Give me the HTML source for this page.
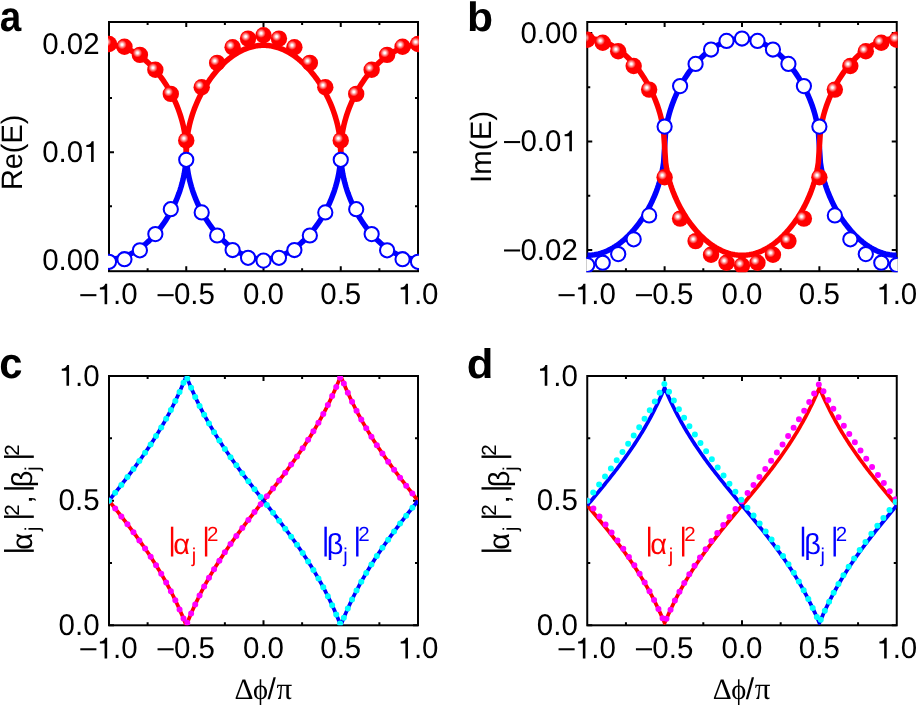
<!DOCTYPE html><html><head><meta charset="utf-8"><style>html,body{margin:0;padding:0;background:#fff;overflow:hidden}svg{display:block;will-change:transform;text-rendering:geometricPrecision}</style></head><body>
<svg width="916" height="705" viewBox="0 0 916 705" font-family="Liberation Sans, sans-serif">
<defs>
<radialGradient id="ball" cx="0.355" cy="0.375" r="0.5" fx="0.355" fy="0.375"><stop offset="0" stop-color="#fff"/><stop offset="0.1" stop-color="#fff"/><stop offset="0.56" stop-color="#f00"/><stop offset="1" stop-color="#f00"/></radialGradient>
<path id="one" d="M263 0H349V-673H285C262-600 200-555 106-550V-485H263Z"/>
<clipPath id="cia"><rect x="109" y="22" width="309" height="249.2"/></clipPath>
<clipPath id="coa"><rect x="108" y="21" width="311" height="251.2"/></clipPath>
<clipPath id="cib"><rect x="587.25" y="22" width="309.5" height="249.2"/></clipPath>
<clipPath id="cob"><rect x="586.25" y="21" width="311.5" height="251.2"/></clipPath>
<clipPath id="cic"><rect x="109" y="376" width="309" height="249.3"/></clipPath>
<clipPath id="coc"><rect x="108" y="375" width="311" height="251.3"/></clipPath>
<clipPath id="cid"><rect x="587.25" y="376" width="309.5" height="249.3"/></clipPath>
<clipPath id="cod"><rect x="586.25" y="375" width="311.5" height="251.3"/></clipPath>
</defs>
<rect width="916" height="705" fill="#fff"/>
<path d="M147.62 22v3M147.62 271.2v-3M186.25 22v5M186.25 271.2v-5M224.88 22v3M224.88 271.2v-3M263.5 22v5M263.5 271.2v-5M302.12 22v3M302.12 271.2v-3M340.75 22v5M340.75 271.2v-5M379.38 22v3M379.38 271.2v-3M109 260.4h5M418 260.4h-5M109 152.2h5M418 152.2h-5M109 44h5M418 44h-5M109 206.3h3M418 206.3h-3M109 98.1h3M418 98.1h-3" stroke="#000" stroke-width="2" fill="none"/>
<rect x="109" y="22" width="309" height="249.2" stroke="#000" stroke-width="2" fill="none"/>
<g clip-path="url(#cia)" fill="none" stroke-width="5.5" stroke-linejoin="round">
<path d="M109 259.1L110.03 259.09 111.06 259.05 112.09 259 113.12 258.91 114.15 258.81 115.18 258.68 116.21 258.53 117.24 258.35 118.27 258.15 119.3 257.93 120.33 257.68 121.36 257.41 122.39 257.11 123.42 256.8 124.45 256.45 125.48 256.09 126.51 255.7 127.54 255.28 128.57 254.84 129.6 254.38 130.63 253.89 131.66 253.37 132.69 252.84 133.72 252.27 134.75 251.68 135.78 251.07 136.81 250.43 137.84 249.76 138.87 249.07 139.9 248.35 140.93 247.61 141.96 246.84 142.99 246.04 144.02 245.21 145.05 244.36 146.08 243.47 147.11 242.56 148.14 241.62 149.17 240.65 150.2 239.65 151.23 238.61 152.26 237.55 153.29 236.45 154.32 235.32 155.35 234.16 156.38 232.96 157.41 231.72 158.44 230.45 159.47 229.14 160.5 227.79 161.53 226.4 162.56 224.96 163.59 223.48 164.62 221.96 165.65 220.38 166.68 218.75 167.71 217.06 168.74 215.31 169.77 213.5 170.8 211.63 171.83 209.67 172.86 207.64 173.89 205.51 174.92 203.28 175.95 200.94 176.98 198.48 178.01 195.86 179.04 193.06 180.07 190.05 181.1 186.76 182.13 183.12 183.16 178.99 184.19 174.08 185.22 167.67 186.25 152.2 187.28 167.67 188.31 174.08 189.34 178.99 190.37 183.12 191.4 186.76 192.43 190.05 193.46 193.06 194.49 195.86 195.52 198.48 196.55 200.94 197.58 203.28 198.61 205.51 199.64 207.64 200.67 209.67 201.7 211.63 202.73 213.5 203.76 215.31 204.79 217.06 205.82 218.75 206.85 220.38 207.88 221.96 208.91 223.48 209.94 224.96 210.97 226.4 212 227.79 213.03 229.14 214.06 230.45 215.09 231.72 216.12 232.96 217.15 234.16 218.18 235.32 219.21 236.45 220.24 237.55 221.27 238.61 222.3 239.65 223.33 240.65 224.36 241.62 225.39 242.56 226.42 243.47 227.45 244.36 228.48 245.21 229.51 246.04 230.54 246.84 231.57 247.61 232.6 248.35 233.63 249.07 234.66 249.76 235.69 250.43 236.72 251.07 237.75 251.68 238.78 252.27 239.81 252.84 240.84 253.37 241.87 253.89 242.9 254.38 243.93 254.84 244.96 255.28 245.99 255.7 247.02 256.09 248.05 256.45 249.08 256.8 250.11 257.11 251.14 257.41 252.17 257.68 253.2 257.93 254.23 258.15 255.26 258.35 256.29 258.53 257.32 258.68 258.35 258.81 259.38 258.91 260.41 259 261.44 259.05 262.47 259.09 263.5 259.1 264.53 259.09 265.56 259.05 266.59 259 267.62 258.91 268.65 258.81 269.68 258.68 270.71 258.53 271.74 258.35 272.77 258.15 273.8 257.93 274.83 257.68 275.86 257.41 276.89 257.11 277.92 256.8 278.95 256.45 279.98 256.09 281.01 255.7 282.04 255.28 283.07 254.84 284.1 254.38 285.13 253.89 286.16 253.37 287.19 252.84 288.22 252.27 289.25 251.68 290.28 251.07 291.31 250.43 292.34 249.76 293.37 249.07 294.4 248.35 295.43 247.61 296.46 246.84 297.49 246.04 298.52 245.21 299.55 244.36 300.58 243.47 301.61 242.56 302.64 241.62 303.67 240.65 304.7 239.65 305.73 238.61 306.76 237.55 307.79 236.45 308.82 235.32 309.85 234.16 310.88 232.96 311.91 231.72 312.94 230.45 313.97 229.14 315 227.79 316.03 226.4 317.06 224.96 318.09 223.48 319.12 221.96 320.15 220.38 321.18 218.75 322.21 217.06 323.24 215.31 324.27 213.5 325.3 211.63 326.33 209.67 327.36 207.64 328.39 205.51 329.42 203.28 330.45 200.94 331.48 198.48 332.51 195.86 333.54 193.06 334.57 190.05 335.6 186.76 336.63 183.12 337.66 178.99 338.69 174.08 339.72 167.67 340.75 152.2 341.78 167.67 342.81 174.08 343.84 178.99 344.87 183.12 345.9 186.76 346.93 190.05 347.96 193.06 348.99 195.86 350.02 198.48 351.05 200.94 352.08 203.28 353.11 205.51 354.14 207.64 355.17 209.67 356.2 211.63 357.23 213.5 358.26 215.31 359.29 217.06 360.32 218.75 361.35 220.38 362.38 221.96 363.41 223.48 364.44 224.96 365.47 226.4 366.5 227.79 367.53 229.14 368.56 230.45 369.59 231.72 370.62 232.96 371.65 234.16 372.68 235.32 373.71 236.45 374.74 237.55 375.77 238.61 376.8 239.65 377.83 240.65 378.86 241.62 379.89 242.56 380.92 243.47 381.95 244.36 382.98 245.21 384.01 246.04 385.04 246.84 386.07 247.61 387.1 248.35 388.13 249.07 389.16 249.76 390.19 250.43 391.22 251.07 392.25 251.68 393.28 252.27 394.31 252.84 395.34 253.37 396.37 253.89 397.4 254.38 398.43 254.84 399.46 255.28 400.49 255.7 401.52 256.09 402.55 256.45 403.58 256.8 404.61 257.11 405.64 257.41 406.67 257.68 407.7 257.93 408.73 258.15 409.76 258.35 410.79 258.53 411.82 258.68 412.85 258.81 413.88 258.91 414.91 259 415.94 259.05 416.97 259.09 418 259.1" stroke="#00f"/>
<path d="M109 45.3L110.03 45.31 111.06 45.35 112.09 45.4 113.12 45.49 114.15 45.59 115.18 45.72 116.21 45.87 117.24 46.05 118.27 46.25 119.3 46.47 120.33 46.72 121.36 46.99 122.39 47.29 123.42 47.6 124.45 47.95 125.48 48.31 126.51 48.7 127.54 49.12 128.57 49.56 129.6 50.02 130.63 50.51 131.66 51.03 132.69 51.56 133.72 52.13 134.75 52.72 135.78 53.33 136.81 53.97 137.84 54.64 138.87 55.33 139.9 56.05 140.93 56.79 141.96 57.56 142.99 58.36 144.02 59.19 145.05 60.04 146.08 60.93 147.11 61.84 148.14 62.78 149.17 63.75 150.2 64.75 151.23 65.79 152.26 66.85 153.29 67.95 154.32 69.08 155.35 70.24 156.38 71.44 157.41 72.68 158.44 73.95 159.47 75.26 160.5 76.61 161.53 78 162.56 79.44 163.59 80.92 164.62 82.44 165.65 84.02 166.68 85.65 167.71 87.34 168.74 89.09 169.77 90.9 170.8 92.77 171.83 94.73 172.86 96.76 173.89 98.89 174.92 101.12 175.95 103.46 176.98 105.92 178.01 108.54 179.04 111.34 180.07 114.35 181.1 117.64 182.13 121.28 183.16 125.41 184.19 130.32 185.22 136.73 186.25 152.2 187.28 136.73 188.31 130.32 189.34 125.41 190.37 121.28 191.4 117.64 192.43 114.35 193.46 111.34 194.49 108.54 195.52 105.92 196.55 103.46 197.58 101.12 198.61 98.89 199.64 96.76 200.67 94.73 201.7 92.77 202.73 90.9 203.76 89.09 204.79 87.34 205.82 85.65 206.85 84.02 207.88 82.44 208.91 80.92 209.94 79.44 210.97 78 212 76.61 213.03 75.26 214.06 73.95 215.09 72.68 216.12 71.44 217.15 70.24 218.18 69.08 219.21 67.95 220.24 66.85 221.27 65.79 222.3 64.75 223.33 63.75 224.36 62.78 225.39 61.84 226.42 60.93 227.45 60.04 228.48 59.19 229.51 58.36 230.54 57.56 231.57 56.79 232.6 56.05 233.63 55.33 234.66 54.64 235.69 53.97 236.72 53.33 237.75 52.72 238.78 52.13 239.81 51.56 240.84 51.03 241.87 50.51 242.9 50.02 243.93 49.56 244.96 49.12 245.99 48.7 247.02 48.31 248.05 47.95 249.08 47.6 250.11 47.29 251.14 46.99 252.17 46.72 253.2 46.47 254.23 46.25 255.26 46.05 256.29 45.87 257.32 45.72 258.35 45.59 259.38 45.49 260.41 45.4 261.44 45.35 262.47 45.31 263.5 45.3 264.53 45.31 265.56 45.35 266.59 45.4 267.62 45.49 268.65 45.59 269.68 45.72 270.71 45.87 271.74 46.05 272.77 46.25 273.8 46.47 274.83 46.72 275.86 46.99 276.89 47.29 277.92 47.6 278.95 47.95 279.98 48.31 281.01 48.7 282.04 49.12 283.07 49.56 284.1 50.02 285.13 50.51 286.16 51.03 287.19 51.56 288.22 52.13 289.25 52.72 290.28 53.33 291.31 53.97 292.34 54.64 293.37 55.33 294.4 56.05 295.43 56.79 296.46 57.56 297.49 58.36 298.52 59.19 299.55 60.04 300.58 60.93 301.61 61.84 302.64 62.78 303.67 63.75 304.7 64.75 305.73 65.79 306.76 66.85 307.79 67.95 308.82 69.08 309.85 70.24 310.88 71.44 311.91 72.68 312.94 73.95 313.97 75.26 315 76.61 316.03 78 317.06 79.44 318.09 80.92 319.12 82.44 320.15 84.02 321.18 85.65 322.21 87.34 323.24 89.09 324.27 90.9 325.3 92.77 326.33 94.73 327.36 96.76 328.39 98.89 329.42 101.12 330.45 103.46 331.48 105.92 332.51 108.54 333.54 111.34 334.57 114.35 335.6 117.64 336.63 121.28 337.66 125.41 338.69 130.32 339.72 136.73 340.75 152.2 341.78 136.73 342.81 130.32 343.84 125.41 344.87 121.28 345.9 117.64 346.93 114.35 347.96 111.34 348.99 108.54 350.02 105.92 351.05 103.46 352.08 101.12 353.11 98.89 354.14 96.76 355.17 94.73 356.2 92.77 357.23 90.9 358.26 89.09 359.29 87.34 360.32 85.65 361.35 84.02 362.38 82.44 363.41 80.92 364.44 79.44 365.47 78 366.5 76.61 367.53 75.26 368.56 73.95 369.59 72.68 370.62 71.44 371.65 70.24 372.68 69.08 373.71 67.95 374.74 66.85 375.77 65.79 376.8 64.75 377.83 63.75 378.86 62.78 379.89 61.84 380.92 60.93 381.95 60.04 382.98 59.19 384.01 58.36 385.04 57.56 386.07 56.79 387.1 56.05 388.13 55.33 389.16 54.64 390.19 53.97 391.22 53.33 392.25 52.72 393.28 52.13 394.31 51.56 395.34 51.03 396.37 50.51 397.4 50.02 398.43 49.56 399.46 49.12 400.49 48.7 401.52 48.31 402.55 47.95 403.58 47.6 404.61 47.29 405.64 46.99 406.67 46.72 407.7 46.47 408.73 46.25 409.76 46.05 410.79 45.87 411.82 45.72 412.85 45.59 413.88 45.49 414.91 45.4 415.94 45.35 416.97 45.31 418 45.3" stroke="#f00"/>
</g>
<g clip-path="url(#coa)">
<circle cx="109" cy="261.8" r="7.1" fill="#fff" stroke="#00f" stroke-width="2.05"/>
<circle cx="124.45" cy="259.2" r="7.1" fill="#fff" stroke="#00f" stroke-width="2.05"/>
<circle cx="139.9" cy="250.3" r="7.1" fill="#fff" stroke="#00f" stroke-width="2.05"/>
<circle cx="155.35" cy="234.1" r="7.1" fill="#fff" stroke="#00f" stroke-width="2.05"/>
<circle cx="170.8" cy="209.2" r="7.1" fill="#fff" stroke="#00f" stroke-width="2.05"/>
<circle cx="186.25" cy="159.8" r="7.1" fill="#fff" stroke="#00f" stroke-width="2.05"/>
<circle cx="201.7" cy="212.4" r="7.1" fill="#fff" stroke="#00f" stroke-width="2.05"/>
<circle cx="217.15" cy="235.5" r="7.1" fill="#fff" stroke="#00f" stroke-width="2.05"/>
<circle cx="232.6" cy="250" r="7.1" fill="#fff" stroke="#00f" stroke-width="2.05"/>
<circle cx="248.05" cy="257.8" r="7.1" fill="#fff" stroke="#00f" stroke-width="2.05"/>
<circle cx="263.5" cy="260.6" r="7.1" fill="#fff" stroke="#00f" stroke-width="2.05"/>
<circle cx="278.95" cy="257.8" r="7.1" fill="#fff" stroke="#00f" stroke-width="2.05"/>
<circle cx="294.4" cy="250" r="7.1" fill="#fff" stroke="#00f" stroke-width="2.05"/>
<circle cx="309.85" cy="235.5" r="7.1" fill="#fff" stroke="#00f" stroke-width="2.05"/>
<circle cx="325.3" cy="212.4" r="7.1" fill="#fff" stroke="#00f" stroke-width="2.05"/>
<circle cx="340.75" cy="159.8" r="7.1" fill="#fff" stroke="#00f" stroke-width="2.05"/>
<circle cx="356.2" cy="209.2" r="7.1" fill="#fff" stroke="#00f" stroke-width="2.05"/>
<circle cx="371.65" cy="234.1" r="7.1" fill="#fff" stroke="#00f" stroke-width="2.05"/>
<circle cx="387.1" cy="250.3" r="7.1" fill="#fff" stroke="#00f" stroke-width="2.05"/>
<circle cx="402.55" cy="259.2" r="7.1" fill="#fff" stroke="#00f" stroke-width="2.05"/>
<circle cx="418" cy="261.8" r="7.1" fill="#fff" stroke="#00f" stroke-width="2.05"/>
<circle cx="109" cy="44" r="8.2" fill="url(#ball)"/>
<circle cx="124.45" cy="46.7" r="8.2" fill="url(#ball)"/>
<circle cx="139.9" cy="54.9" r="8.2" fill="url(#ball)"/>
<circle cx="155.35" cy="69.8" r="8.2" fill="url(#ball)"/>
<circle cx="170.8" cy="93.9" r="8.2" fill="url(#ball)"/>
<circle cx="186.25" cy="140.4" r="8.2" fill="url(#ball)"/>
<circle cx="201.7" cy="87.2" r="8.2" fill="url(#ball)"/>
<circle cx="217.15" cy="62.9" r="8.2" fill="url(#ball)"/>
<circle cx="232.6" cy="47.3" r="8.2" fill="url(#ball)"/>
<circle cx="248.05" cy="38.6" r="8.2" fill="url(#ball)"/>
<circle cx="263.5" cy="35.3" r="8.2" fill="url(#ball)"/>
<circle cx="278.95" cy="38.6" r="8.2" fill="url(#ball)"/>
<circle cx="294.4" cy="47.3" r="8.2" fill="url(#ball)"/>
<circle cx="309.85" cy="62.9" r="8.2" fill="url(#ball)"/>
<circle cx="325.3" cy="87.2" r="8.2" fill="url(#ball)"/>
<circle cx="340.75" cy="140.4" r="8.2" fill="url(#ball)"/>
<circle cx="356.2" cy="93.9" r="8.2" fill="url(#ball)"/>
<circle cx="371.65" cy="69.8" r="8.2" fill="url(#ball)"/>
<circle cx="387.1" cy="54.9" r="8.2" fill="url(#ball)"/>
<circle cx="402.55" cy="46.7" r="8.2" fill="url(#ball)"/>
<circle cx="418" cy="44" r="8.2" fill="url(#ball)"/>
</g>
<g transform="translate(80.29 304.3) scale(1 1.02)">
<text font-size="29.5" xml:space="preserve">  .0</text>
<rect x="0" y="-9.95" width="16.11" height="2"/>
<use href="#one" transform="translate(16.41 0) scale(0.03)"/>
</g>
<g transform="translate(157.54 304.3) scale(1 1.02)">
<text font-size="29.5" xml:space="preserve"> 0.5</text>
<rect x="0" y="-9.95" width="16.11" height="2"/>
</g>
<g transform="translate(243 304.3) scale(1 1.02)">
<text font-size="29.5" xml:space="preserve">0.0</text>
</g>
<g transform="translate(320.25 304.3) scale(1 1.02)">
<text font-size="29.5" xml:space="preserve">0.5</text>
</g>
<g transform="translate(397.5 304.3) scale(1 1.02)">
<text font-size="29.5" xml:space="preserve"> .0</text>
<use href="#one" transform="translate(0 0) scale(0.03)"/>
</g>
<g transform="translate(42.18 53.7) scale(1 1.02)">
<text font-size="29.5" xml:space="preserve">0.02</text>
</g>
<g transform="translate(42.18 161.9) scale(1 1.02)">
<text font-size="29.5" xml:space="preserve">0.0 </text>
<use href="#one" transform="translate(41.01 0) scale(0.03)"/>
</g>
<g transform="translate(42.18 270.1) scale(1 1.02)">
<text font-size="29.5" xml:space="preserve">0.00</text>
</g>
<path d="M625.94 22v3M625.94 271.2v-3M664.62 22v5M664.62 271.2v-5M703.31 22v3M703.31 271.2v-3M742 22v5M742 271.2v-5M780.69 22v3M780.69 271.2v-3M819.38 22v5M819.38 271.2v-5M858.06 22v3M858.06 271.2v-3M587.25 33.1h5M896.75 33.1h-5M587.25 141.5h5M896.75 141.5h-5M587.25 249.9h5M896.75 249.9h-5M587.25 87.3h3M896.75 87.3h-3M587.25 195.7h3M896.75 195.7h-3" stroke="#000" stroke-width="2" fill="none"/>
<rect x="587.25" y="22" width="309.5" height="249.2" stroke="#000" stroke-width="2" fill="none"/>
<g clip-path="url(#cib)" fill="none" stroke-width="5.5" stroke-linejoin="round">
<path d="M587.25 255.32L588.28 255.31 589.31 255.27 590.35 255.21 591.38 255.13 592.41 255.02 593.44 254.89 594.47 254.74 595.5 254.56 596.53 254.36 597.57 254.13 598.6 253.88 599.63 253.6 600.66 253.3 601.69 252.98 602.73 252.63 603.76 252.26 604.79 251.87 605.82 251.44 606.85 251 607.88 250.53 608.91 250.03 609.95 249.51 610.98 248.97 612.01 248.39 613.04 247.8 614.07 247.17 615.11 246.53 616.14 245.85 617.17 245.15 618.2 244.42 619.23 243.67 620.26 242.88 621.29 242.07 622.33 241.23 623.36 240.37 624.39 239.47 625.42 238.55 626.45 237.59 627.49 236.61 628.52 235.59 629.55 234.54 630.58 233.47 631.61 232.35 632.64 231.21 633.67 230.03 634.71 228.81 635.74 227.56 636.77 226.27 637.8 224.94 638.83 223.57 639.87 222.16 640.9 220.7 641.93 219.2 642.96 217.65 643.99 216.05 645.02 214.4 646.05 212.69 647.09 210.92 648.12 209.08 649.15 207.18 650.18 205.2 651.21 203.13 652.25 200.98 653.28 198.72 654.31 196.35 655.34 193.84 656.37 191.19 657.4 188.35 658.43 185.3 659.47 181.97 660.5 178.28 661.53 174.08 662.56 169.1 663.59 162.61 664.62 146.92 665.66 131.23 666.69 124.74 667.72 119.76 668.75 115.56 669.78 111.87 670.82 108.54 671.85 105.49 672.88 102.65 673.91 100 674.94 97.49 675.97 95.12 677 92.86 678.04 90.71 679.07 88.64 680.1 86.66 681.13 84.76 682.16 82.92 683.19 81.15 684.23 79.44 685.26 77.79 686.29 76.19 687.32 74.64 688.35 73.14 689.38 71.68 690.42 70.27 691.45 68.9 692.48 67.57 693.51 66.28 694.54 65.03 695.58 63.81 696.61 62.63 697.64 61.49 698.67 60.37 699.7 59.3 700.73 58.25 701.76 57.23 702.8 56.25 703.83 55.29 704.86 54.37 705.89 53.47 706.92 52.61 707.96 51.77 708.99 50.96 710.02 50.17 711.05 49.42 712.08 48.69 713.11 47.99 714.14 47.31 715.18 46.67 716.21 46.04 717.24 45.45 718.27 44.87 719.3 44.33 720.34 43.81 721.37 43.31 722.4 42.84 723.43 42.4 724.46 41.97 725.49 41.58 726.52 41.21 727.56 40.86 728.59 40.54 729.62 40.24 730.65 39.96 731.68 39.71 732.72 39.48 733.75 39.28 734.78 39.1 735.81 38.95 736.84 38.82 737.87 38.71 738.9 38.63 739.94 38.57 740.97 38.53 742 38.52 743.03 38.53 744.06 38.57 745.1 38.63 746.13 38.71 747.16 38.82 748.19 38.95 749.22 39.1 750.25 39.28 751.28 39.48 752.32 39.71 753.35 39.96 754.38 40.24 755.41 40.54 756.44 40.86 757.48 41.21 758.51 41.58 759.54 41.97 760.57 42.4 761.6 42.84 762.63 43.31 763.66 43.81 764.7 44.33 765.73 44.87 766.76 45.45 767.79 46.04 768.82 46.67 769.86 47.31 770.89 47.99 771.92 48.69 772.95 49.42 773.98 50.17 775.01 50.96 776.04 51.77 777.08 52.61 778.11 53.47 779.14 54.37 780.17 55.29 781.2 56.25 782.24 57.23 783.27 58.25 784.3 59.3 785.33 60.37 786.36 61.49 787.39 62.63 788.42 63.81 789.46 65.03 790.49 66.28 791.52 67.57 792.55 68.9 793.58 70.27 794.62 71.68 795.65 73.14 796.68 74.64 797.71 76.19 798.74 77.79 799.77 79.44 800.8 81.15 801.84 82.92 802.87 84.76 803.9 86.66 804.93 88.64 805.96 90.71 807 92.86 808.03 95.12 809.06 97.49 810.09 100 811.12 102.65 812.15 105.49 813.18 108.54 814.22 111.87 815.25 115.56 816.28 119.76 817.31 124.74 818.34 131.23 819.38 146.92 820.41 162.61 821.44 169.1 822.47 174.08 823.5 178.28 824.53 181.97 825.57 185.3 826.6 188.35 827.63 191.19 828.66 193.84 829.69 196.35 830.72 198.72 831.75 200.98 832.79 203.13 833.82 205.2 834.85 207.18 835.88 209.08 836.91 210.92 837.95 212.69 838.98 214.4 840.01 216.05 841.04 217.65 842.07 219.2 843.1 220.7 844.13 222.16 845.17 223.57 846.2 224.94 847.23 226.27 848.26 227.56 849.29 228.81 850.33 230.03 851.36 231.21 852.39 232.35 853.42 233.47 854.45 234.54 855.48 235.59 856.51 236.61 857.55 237.59 858.58 238.55 859.61 239.47 860.64 240.37 861.67 241.23 862.7 242.07 863.74 242.88 864.77 243.67 865.8 244.42 866.83 245.15 867.86 245.85 868.89 246.53 869.93 247.17 870.96 247.8 871.99 248.39 873.02 248.97 874.05 249.51 875.09 250.03 876.12 250.53 877.15 251 878.18 251.44 879.21 251.87 880.24 252.26 881.27 252.63 882.31 252.98 883.34 253.3 884.37 253.6 885.4 253.88 886.43 254.13 887.46 254.36 888.5 254.56 889.53 254.74 890.56 254.89 891.59 255.02 892.62 255.13 893.65 255.21 894.69 255.27 895.72 255.31 896.75 255.32" stroke="#00f"/>
<path d="M587.25 38.52L588.28 38.53 589.31 38.57 590.35 38.63 591.38 38.71 592.41 38.82 593.44 38.95 594.47 39.1 595.5 39.28 596.53 39.48 597.57 39.71 598.6 39.96 599.63 40.24 600.66 40.54 601.69 40.86 602.73 41.21 603.76 41.58 604.79 41.97 605.82 42.4 606.85 42.84 607.88 43.31 608.91 43.81 609.95 44.33 610.98 44.87 612.01 45.45 613.04 46.04 614.07 46.67 615.11 47.31 616.14 47.99 617.17 48.69 618.2 49.42 619.23 50.17 620.26 50.96 621.29 51.77 622.33 52.61 623.36 53.47 624.39 54.37 625.42 55.29 626.45 56.25 627.49 57.23 628.52 58.25 629.55 59.3 630.58 60.37 631.61 61.49 632.64 62.63 633.67 63.81 634.71 65.03 635.74 66.28 636.77 67.57 637.8 68.9 638.83 70.27 639.87 71.68 640.9 73.14 641.93 74.64 642.96 76.19 643.99 77.79 645.02 79.44 646.05 81.15 647.09 82.92 648.12 84.76 649.15 86.66 650.18 88.64 651.21 90.71 652.25 92.86 653.28 95.12 654.31 97.49 655.34 100 656.37 102.65 657.4 105.49 658.43 108.54 659.47 111.87 660.5 115.56 661.53 119.76 662.56 124.74 663.59 131.23 664.62 146.92 665.66 162.61 666.69 169.1 667.72 174.08 668.75 178.28 669.78 181.97 670.82 185.3 671.85 188.35 672.88 191.19 673.91 193.84 674.94 196.35 675.97 198.72 677 200.98 678.04 203.13 679.07 205.2 680.1 207.18 681.13 209.08 682.16 210.92 683.19 212.69 684.23 214.4 685.26 216.05 686.29 217.65 687.32 219.2 688.35 220.7 689.38 222.16 690.42 223.57 691.45 224.94 692.48 226.27 693.51 227.56 694.54 228.81 695.58 230.03 696.61 231.21 697.64 232.35 698.67 233.47 699.7 234.54 700.73 235.59 701.76 236.61 702.8 237.59 703.83 238.55 704.86 239.47 705.89 240.37 706.92 241.23 707.96 242.07 708.99 242.88 710.02 243.67 711.05 244.42 712.08 245.15 713.11 245.85 714.14 246.53 715.18 247.17 716.21 247.8 717.24 248.39 718.27 248.97 719.3 249.51 720.34 250.03 721.37 250.53 722.4 251 723.43 251.44 724.46 251.87 725.49 252.26 726.52 252.63 727.56 252.98 728.59 253.3 729.62 253.6 730.65 253.88 731.68 254.13 732.72 254.36 733.75 254.56 734.78 254.74 735.81 254.89 736.84 255.02 737.87 255.13 738.9 255.21 739.94 255.27 740.97 255.31 742 255.32 743.03 255.31 744.06 255.27 745.1 255.21 746.13 255.13 747.16 255.02 748.19 254.89 749.22 254.74 750.25 254.56 751.28 254.36 752.32 254.13 753.35 253.88 754.38 253.6 755.41 253.3 756.44 252.98 757.48 252.63 758.51 252.26 759.54 251.87 760.57 251.44 761.6 251 762.63 250.53 763.66 250.03 764.7 249.51 765.73 248.97 766.76 248.39 767.79 247.8 768.82 247.17 769.86 246.53 770.89 245.85 771.92 245.15 772.95 244.42 773.98 243.67 775.01 242.88 776.04 242.07 777.08 241.23 778.11 240.37 779.14 239.47 780.17 238.55 781.2 237.59 782.24 236.61 783.27 235.59 784.3 234.54 785.33 233.47 786.36 232.35 787.39 231.21 788.42 230.03 789.46 228.81 790.49 227.56 791.52 226.27 792.55 224.94 793.58 223.57 794.62 222.16 795.65 220.7 796.68 219.2 797.71 217.65 798.74 216.05 799.77 214.4 800.8 212.69 801.84 210.92 802.87 209.08 803.9 207.18 804.93 205.2 805.96 203.13 807 200.98 808.03 198.72 809.06 196.35 810.09 193.84 811.12 191.19 812.15 188.35 813.18 185.3 814.22 181.97 815.25 178.28 816.28 174.08 817.31 169.1 818.34 162.61 819.38 146.92 820.41 131.23 821.44 124.74 822.47 119.76 823.5 115.56 824.53 111.87 825.57 108.54 826.6 105.49 827.63 102.65 828.66 100 829.69 97.49 830.72 95.12 831.75 92.86 832.79 90.71 833.82 88.64 834.85 86.66 835.88 84.76 836.91 82.92 837.95 81.15 838.98 79.44 840.01 77.79 841.04 76.19 842.07 74.64 843.1 73.14 844.13 71.68 845.17 70.27 846.2 68.9 847.23 67.57 848.26 66.28 849.29 65.03 850.33 63.81 851.36 62.63 852.39 61.49 853.42 60.37 854.45 59.3 855.48 58.25 856.51 57.23 857.55 56.25 858.58 55.29 859.61 54.37 860.64 53.47 861.67 52.61 862.7 51.77 863.74 50.96 864.77 50.17 865.8 49.42 866.83 48.69 867.86 47.99 868.89 47.31 869.93 46.67 870.96 46.04 871.99 45.45 873.02 44.87 874.05 44.33 875.09 43.81 876.12 43.31 877.15 42.84 878.18 42.4 879.21 41.97 880.24 41.58 881.27 41.21 882.31 40.86 883.34 40.54 884.37 40.24 885.4 39.96 886.43 39.71 887.46 39.48 888.5 39.28 889.53 39.1 890.56 38.95 891.59 38.82 892.62 38.71 893.65 38.63 894.69 38.57 895.72 38.53 896.75 38.52" stroke="#f00"/>
</g>
<g clip-path="url(#cob)">
<circle cx="587.25" cy="265" r="7.1" fill="#fff" stroke="#00f" stroke-width="2.05"/>
<circle cx="602.73" cy="262.7" r="7.1" fill="#fff" stroke="#00f" stroke-width="2.05"/>
<circle cx="618.2" cy="254.1" r="7.1" fill="#fff" stroke="#00f" stroke-width="2.05"/>
<circle cx="633.67" cy="239.3" r="7.1" fill="#fff" stroke="#00f" stroke-width="2.05"/>
<circle cx="649.15" cy="215.4" r="7.1" fill="#fff" stroke="#00f" stroke-width="2.05"/>
<circle cx="664.62" cy="126.6" r="7.1" fill="#fff" stroke="#00f" stroke-width="2.05"/>
<circle cx="680.1" cy="86.1" r="7.1" fill="#fff" stroke="#00f" stroke-width="2.05"/>
<circle cx="695.58" cy="63.9" r="7.1" fill="#fff" stroke="#00f" stroke-width="2.05"/>
<circle cx="711.05" cy="49.5" r="7.1" fill="#fff" stroke="#00f" stroke-width="2.05"/>
<circle cx="726.52" cy="40.9" r="7.1" fill="#fff" stroke="#00f" stroke-width="2.05"/>
<circle cx="742" cy="38.5" r="7.1" fill="#fff" stroke="#00f" stroke-width="2.05"/>
<circle cx="757.48" cy="40.9" r="7.1" fill="#fff" stroke="#00f" stroke-width="2.05"/>
<circle cx="772.95" cy="49.5" r="7.1" fill="#fff" stroke="#00f" stroke-width="2.05"/>
<circle cx="788.42" cy="63.9" r="7.1" fill="#fff" stroke="#00f" stroke-width="2.05"/>
<circle cx="803.9" cy="86.1" r="7.1" fill="#fff" stroke="#00f" stroke-width="2.05"/>
<circle cx="819.38" cy="126.6" r="7.1" fill="#fff" stroke="#00f" stroke-width="2.05"/>
<circle cx="834.85" cy="215.4" r="7.1" fill="#fff" stroke="#00f" stroke-width="2.05"/>
<circle cx="850.33" cy="239.3" r="7.1" fill="#fff" stroke="#00f" stroke-width="2.05"/>
<circle cx="865.8" cy="254.1" r="7.1" fill="#fff" stroke="#00f" stroke-width="2.05"/>
<circle cx="881.28" cy="262.7" r="7.1" fill="#fff" stroke="#00f" stroke-width="2.05"/>
<circle cx="896.75" cy="265" r="7.1" fill="#fff" stroke="#00f" stroke-width="2.05"/>
<circle cx="587.25" cy="39.8" r="8.2" fill="url(#ball)"/>
<circle cx="602.73" cy="42.7" r="8.2" fill="url(#ball)"/>
<circle cx="618.2" cy="51.3" r="8.2" fill="url(#ball)"/>
<circle cx="633.67" cy="66" r="8.2" fill="url(#ball)"/>
<circle cx="649.15" cy="89.6" r="8.2" fill="url(#ball)"/>
<circle cx="664.62" cy="177.3" r="8.2" fill="url(#ball)"/>
<circle cx="680.1" cy="218.6" r="8.2" fill="url(#ball)"/>
<circle cx="695.58" cy="241.1" r="8.2" fill="url(#ball)"/>
<circle cx="711.05" cy="254.8" r="8.2" fill="url(#ball)"/>
<circle cx="726.52" cy="262.7" r="8.2" fill="url(#ball)"/>
<circle cx="742" cy="265.5" r="8.2" fill="url(#ball)"/>
<circle cx="757.48" cy="262.7" r="8.2" fill="url(#ball)"/>
<circle cx="772.95" cy="254.8" r="8.2" fill="url(#ball)"/>
<circle cx="788.42" cy="241.1" r="8.2" fill="url(#ball)"/>
<circle cx="803.9" cy="218.6" r="8.2" fill="url(#ball)"/>
<circle cx="819.38" cy="177.3" r="8.2" fill="url(#ball)"/>
<circle cx="834.85" cy="89.6" r="8.2" fill="url(#ball)"/>
<circle cx="850.33" cy="66" r="8.2" fill="url(#ball)"/>
<circle cx="865.8" cy="51.3" r="8.2" fill="url(#ball)"/>
<circle cx="881.28" cy="42.7" r="8.2" fill="url(#ball)"/>
<circle cx="896.75" cy="39.8" r="8.2" fill="url(#ball)"/>
</g>
<g transform="translate(558.54 304.3) scale(1 1.02)">
<text font-size="29.5" xml:space="preserve">  .0</text>
<rect x="0" y="-9.95" width="16.11" height="2"/>
<use href="#one" transform="translate(16.41 0) scale(0.03)"/>
</g>
<g transform="translate(635.92 304.3) scale(1 1.02)">
<text font-size="29.5" xml:space="preserve"> 0.5</text>
<rect x="0" y="-9.95" width="16.11" height="2"/>
</g>
<g transform="translate(721.5 304.3) scale(1 1.02)">
<text font-size="29.5" xml:space="preserve">0.0</text>
</g>
<g transform="translate(798.87 304.3) scale(1 1.02)">
<text font-size="29.5" xml:space="preserve">0.5</text>
</g>
<g transform="translate(876.25 304.3) scale(1 1.02)">
<text font-size="29.5" xml:space="preserve"> .0</text>
<use href="#one" transform="translate(0 0) scale(0.03)"/>
</g>
<g transform="translate(520.43 42.8) scale(1 1.02)">
<text font-size="29.5" xml:space="preserve">0.00</text>
</g>
<g transform="translate(504.03 151.2) scale(1 1.02)">
<text font-size="29.5" xml:space="preserve"> 0.0 </text>
<rect x="0" y="-9.95" width="16.11" height="2"/>
<use href="#one" transform="translate(57.42 0) scale(0.03)"/>
</g>
<g transform="translate(504.03 259.6) scale(1 1.02)">
<text font-size="29.5" xml:space="preserve"> 0.02</text>
<rect x="0" y="-9.95" width="16.11" height="2"/>
</g>
<path d="M147.62 376v3M147.62 625.3v-3M186.25 376v5M186.25 625.3v-5M224.88 376v3M224.88 625.3v-3M263.5 376v5M263.5 625.3v-5M302.12 376v3M302.12 625.3v-3M340.75 376v5M340.75 625.3v-5M379.38 376v3M379.38 625.3v-3M109 625.3h5M418 625.3h-5M109 500.65h5M418 500.65h-5M109 376h5M418 376h-5M109 562.97h3M418 562.97h-3M109 438.32h3M418 438.32h-3" stroke="#000" stroke-width="2" fill="none"/>
<rect x="109" y="376" width="309" height="249.3" stroke="#000" stroke-width="2" fill="none"/>
<g clip-path="url(#cic)" fill="none" stroke-linejoin="round">
<path d="M109 500.65L110.03 501.96 111.06 503.26 112.09 504.57 113.12 505.87 114.15 507.18 115.18 508.49 116.21 509.8 117.24 511.12 118.27 512.43 119.3 513.75 120.33 515.07 121.36 516.4 122.39 517.72 123.42 519.06 124.45 520.39 125.48 521.73 126.51 523.08 127.54 524.43 128.57 525.78 129.6 527.15 130.63 528.51 131.66 529.89 132.69 531.27 133.72 532.65 134.75 534.05 135.78 535.45 136.81 536.86 137.84 538.28 138.87 539.71 139.9 541.15 140.93 542.6 141.96 544.06 142.99 545.53 144.02 547.01 145.05 548.5 146.08 550 147.11 551.52 148.14 553.05 149.17 554.59 150.2 556.15 151.23 557.72 152.26 559.31 153.29 560.91 154.32 562.53 155.35 564.16 156.38 565.82 157.41 567.49 158.44 569.18 159.47 570.89 160.5 572.62 161.53 574.37 162.56 576.14 163.59 577.94 164.62 579.76 165.65 581.6 166.68 583.47 167.71 585.36 168.74 587.28 169.77 589.23 170.8 591.21 171.83 593.22 172.86 595.26 173.89 597.34 174.92 599.45 175.95 601.59 176.98 603.77 178.01 605.99 179.04 608.24 180.07 610.54 181.1 612.89 182.13 615.27 183.16 617.7 184.19 620.19 185.22 622.72 186.25 625.3 187.28 622.72 188.31 620.19 189.34 617.7 190.37 615.27 191.4 612.89 192.43 610.54 193.46 608.24 194.49 605.99 195.52 603.77 196.55 601.59 197.58 599.45 198.61 597.34 199.64 595.26 200.67 593.22 201.7 591.21 202.73 589.23 203.76 587.28 204.79 585.36 205.82 583.47 206.85 581.6 207.88 579.76 208.91 577.94 209.94 576.14 210.97 574.37 212 572.62 213.03 570.89 214.06 569.18 215.09 567.49 216.12 565.82 217.15 564.16 218.18 562.53 219.21 560.91 220.24 559.31 221.27 557.72 222.3 556.15 223.33 554.59 224.36 553.05 225.39 551.52 226.42 550 227.45 548.5 228.48 547.01 229.51 545.53 230.54 544.06 231.57 542.6 232.6 541.15 233.63 539.71 234.66 538.28 235.69 536.86 236.72 535.45 237.75 534.05 238.78 532.65 239.81 531.27 240.84 529.89 241.87 528.51 242.9 527.15 243.93 525.78 244.96 524.43 245.99 523.08 247.02 521.73 248.05 520.39 249.08 519.06 250.11 517.72 251.14 516.4 252.17 515.07 253.2 513.75 254.23 512.43 255.26 511.12 256.29 509.8 257.32 508.49 258.35 507.18 259.38 505.87 260.41 504.57 261.44 503.26 262.47 501.96 263.5 500.65 264.53 499.34 265.56 498.04 266.59 496.73 267.62 495.43 268.65 494.12 269.68 492.81 270.71 491.5 271.74 490.18 272.77 488.87 273.8 487.55 274.83 486.23 275.86 484.9 276.89 483.58 277.92 482.24 278.95 480.91 279.98 479.57 281.01 478.22 282.04 476.87 283.07 475.52 284.1 474.15 285.13 472.79 286.16 471.41 287.19 470.03 288.22 468.65 289.25 467.25 290.28 465.85 291.31 464.44 292.34 463.02 293.37 461.59 294.4 460.15 295.43 458.7 296.46 457.24 297.49 455.77 298.52 454.29 299.55 452.8 300.58 451.3 301.61 449.78 302.64 448.25 303.67 446.71 304.7 445.15 305.73 443.58 306.76 441.99 307.79 440.39 308.82 438.77 309.85 437.14 310.88 435.48 311.91 433.81 312.94 432.12 313.97 430.41 315 428.68 316.03 426.93 317.06 425.16 318.09 423.36 319.12 421.54 320.15 419.7 321.18 417.83 322.21 415.94 323.24 414.02 324.27 412.07 325.3 410.09 326.33 408.08 327.36 406.04 328.39 403.96 329.42 401.85 330.45 399.71 331.48 397.53 332.51 395.31 333.54 393.06 334.57 390.76 335.6 388.41 336.63 386.03 337.66 383.6 338.69 381.11 339.72 378.58 340.75 376 341.78 378.58 342.81 381.11 343.84 383.6 344.87 386.03 345.9 388.41 346.93 390.76 347.96 393.06 348.99 395.31 350.02 397.53 351.05 399.71 352.08 401.85 353.11 403.96 354.14 406.04 355.17 408.08 356.2 410.09 357.23 412.07 358.26 414.02 359.29 415.94 360.32 417.83 361.35 419.7 362.38 421.54 363.41 423.36 364.44 425.16 365.47 426.93 366.5 428.68 367.53 430.41 368.56 432.12 369.59 433.81 370.62 435.48 371.65 437.14 372.68 438.77 373.71 440.39 374.74 441.99 375.77 443.58 376.8 445.15 377.83 446.71 378.86 448.25 379.89 449.78 380.92 451.3 381.95 452.8 382.98 454.29 384.01 455.77 385.04 457.24 386.07 458.7 387.1 460.15 388.13 461.59 389.16 463.02 390.19 464.44 391.22 465.85 392.25 467.25 393.28 468.65 394.31 470.03 395.34 471.41 396.37 472.79 397.4 474.15 398.43 475.52 399.46 476.87 400.49 478.22 401.52 479.57 402.55 480.91 403.58 482.24 404.61 483.58 405.64 484.9 406.67 486.23 407.7 487.55 408.73 488.87 409.76 490.18 410.79 491.5 411.82 492.81 412.85 494.12 413.88 495.43 414.91 496.73 415.94 498.04 416.97 499.34 418 500.65" stroke="#f00" stroke-width="3.7"/>
<path d="M109 500.65L110.03 499.34 111.06 498.04 112.09 496.73 113.12 495.43 114.15 494.12 115.18 492.81 116.21 491.5 117.24 490.18 118.27 488.87 119.3 487.55 120.33 486.23 121.36 484.9 122.39 483.58 123.42 482.24 124.45 480.91 125.48 479.57 126.51 478.22 127.54 476.87 128.57 475.52 129.6 474.15 130.63 472.79 131.66 471.41 132.69 470.03 133.72 468.65 134.75 467.25 135.78 465.85 136.81 464.44 137.84 463.02 138.87 461.59 139.9 460.15 140.93 458.7 141.96 457.24 142.99 455.77 144.02 454.29 145.05 452.8 146.08 451.3 147.11 449.78 148.14 448.25 149.17 446.71 150.2 445.15 151.23 443.58 152.26 441.99 153.29 440.39 154.32 438.77 155.35 437.14 156.38 435.48 157.41 433.81 158.44 432.12 159.47 430.41 160.5 428.68 161.53 426.93 162.56 425.16 163.59 423.36 164.62 421.54 165.65 419.7 166.68 417.83 167.71 415.94 168.74 414.02 169.77 412.07 170.8 410.09 171.83 408.08 172.86 406.04 173.89 403.96 174.92 401.85 175.95 399.71 176.98 397.53 178.01 395.31 179.04 393.06 180.07 390.76 181.1 388.41 182.13 386.03 183.16 383.6 184.19 381.11 185.22 378.58 186.25 376 187.28 378.58 188.31 381.11 189.34 383.6 190.37 386.03 191.4 388.41 192.43 390.76 193.46 393.06 194.49 395.31 195.52 397.53 196.55 399.71 197.58 401.85 198.61 403.96 199.64 406.04 200.67 408.08 201.7 410.09 202.73 412.07 203.76 414.02 204.79 415.94 205.82 417.83 206.85 419.7 207.88 421.54 208.91 423.36 209.94 425.16 210.97 426.93 212 428.68 213.03 430.41 214.06 432.12 215.09 433.81 216.12 435.48 217.15 437.14 218.18 438.77 219.21 440.39 220.24 441.99 221.27 443.58 222.3 445.15 223.33 446.71 224.36 448.25 225.39 449.78 226.42 451.3 227.45 452.8 228.48 454.29 229.51 455.77 230.54 457.24 231.57 458.7 232.6 460.15 233.63 461.59 234.66 463.02 235.69 464.44 236.72 465.85 237.75 467.25 238.78 468.65 239.81 470.03 240.84 471.41 241.87 472.79 242.9 474.15 243.93 475.52 244.96 476.87 245.99 478.22 247.02 479.57 248.05 480.91 249.08 482.24 250.11 483.58 251.14 484.9 252.17 486.23 253.2 487.55 254.23 488.87 255.26 490.18 256.29 491.5 257.32 492.81 258.35 494.12 259.38 495.43 260.41 496.73 261.44 498.04 262.47 499.34 263.5 500.65 264.53 501.96 265.56 503.26 266.59 504.57 267.62 505.87 268.65 507.18 269.68 508.49 270.71 509.8 271.74 511.12 272.77 512.43 273.8 513.75 274.83 515.07 275.86 516.4 276.89 517.72 277.92 519.06 278.95 520.39 279.98 521.73 281.01 523.08 282.04 524.43 283.07 525.78 284.1 527.15 285.13 528.51 286.16 529.89 287.19 531.27 288.22 532.65 289.25 534.05 290.28 535.45 291.31 536.86 292.34 538.28 293.37 539.71 294.4 541.15 295.43 542.6 296.46 544.06 297.49 545.53 298.52 547.01 299.55 548.5 300.58 550 301.61 551.52 302.64 553.05 303.67 554.59 304.7 556.15 305.73 557.72 306.76 559.31 307.79 560.91 308.82 562.53 309.85 564.16 310.88 565.82 311.91 567.49 312.94 569.18 313.97 570.89 315 572.62 316.03 574.37 317.06 576.14 318.09 577.94 319.12 579.76 320.15 581.6 321.18 583.47 322.21 585.36 323.24 587.28 324.27 589.23 325.3 591.21 326.33 593.22 327.36 595.26 328.39 597.34 329.42 599.45 330.45 601.59 331.48 603.77 332.51 605.99 333.54 608.24 334.57 610.54 335.6 612.89 336.63 615.27 337.66 617.7 338.69 620.19 339.72 622.72 340.75 625.3 341.78 622.72 342.81 620.19 343.84 617.7 344.87 615.27 345.9 612.89 346.93 610.54 347.96 608.24 348.99 605.99 350.02 603.77 351.05 601.59 352.08 599.45 353.11 597.34 354.14 595.26 355.17 593.22 356.2 591.21 357.23 589.23 358.26 587.28 359.29 585.36 360.32 583.47 361.35 581.6 362.38 579.76 363.41 577.94 364.44 576.14 365.47 574.37 366.5 572.62 367.53 570.89 368.56 569.18 369.59 567.49 370.62 565.82 371.65 564.16 372.68 562.53 373.71 560.91 374.74 559.31 375.77 557.72 376.8 556.15 377.83 554.59 378.86 553.05 379.89 551.52 380.92 550 381.95 548.5 382.98 547.01 384.01 545.53 385.04 544.06 386.07 542.6 387.1 541.15 388.13 539.71 389.16 538.28 390.19 536.86 391.22 535.45 392.25 534.05 393.28 532.65 394.31 531.27 395.34 529.89 396.37 528.51 397.4 527.15 398.43 525.78 399.46 524.43 400.49 523.08 401.52 521.73 402.55 520.39 403.58 519.06 404.61 517.72 405.64 516.4 406.67 515.07 407.7 513.75 408.73 512.43 409.76 511.12 410.79 509.8 411.82 508.49 412.85 507.18 413.88 505.87 414.91 504.57 415.94 503.26 416.97 501.96 418 500.65" stroke="#00f" stroke-width="3.7"/>
<path d="M109 500.65L110.03 501.96 111.06 503.26 112.09 504.57 113.12 505.87 114.15 507.18 115.18 508.49 116.21 509.8 117.24 511.12 118.27 512.43 119.3 513.75 120.33 515.07 121.36 516.4 122.39 517.72 123.42 519.06 124.45 520.39 125.48 521.73 126.51 523.08 127.54 524.43 128.57 525.78 129.6 527.15 130.63 528.51 131.66 529.89 132.69 531.27 133.72 532.65 134.75 534.05 135.78 535.45 136.81 536.86 137.84 538.28 138.87 539.71 139.9 541.15 140.93 542.6 141.96 544.06 142.99 545.53 144.02 547.01 145.05 548.5 146.08 550 147.11 551.52 148.14 553.05 149.17 554.59 150.2 556.15 151.23 557.72 152.26 559.31 153.29 560.91 154.32 562.53 155.35 564.16 156.38 565.82 157.41 567.49 158.44 569.18 159.47 570.89 160.5 572.62 161.53 574.37 162.56 576.14 163.59 577.94 164.62 579.76 165.65 581.6 166.68 583.47 167.71 585.36 168.74 587.28 169.77 589.23 170.8 591.21 171.83 593.22 172.86 595.26 173.89 597.34 174.92 599.45 175.95 601.59 176.98 603.77 178.01 605.99 179.04 608.24 180.07 610.54 181.1 612.89 182.13 615.27 183.16 617.7 184.19 620.19 185.22 622.72 186.25 625.3 187.28 622.72 188.31 620.19 189.34 617.7 190.37 615.27 191.4 612.89 192.43 610.54 193.46 608.24 194.49 605.99 195.52 603.77 196.55 601.59 197.58 599.45 198.61 597.34 199.64 595.26 200.67 593.22 201.7 591.21 202.73 589.23 203.76 587.28 204.79 585.36 205.82 583.47 206.85 581.6 207.88 579.76 208.91 577.94 209.94 576.14 210.97 574.37 212 572.62 213.03 570.89 214.06 569.18 215.09 567.49 216.12 565.82 217.15 564.16 218.18 562.53 219.21 560.91 220.24 559.31 221.27 557.72 222.3 556.15 223.33 554.59 224.36 553.05 225.39 551.52 226.42 550 227.45 548.5 228.48 547.01 229.51 545.53 230.54 544.06 231.57 542.6 232.6 541.15 233.63 539.71 234.66 538.28 235.69 536.86 236.72 535.45 237.75 534.05 238.78 532.65 239.81 531.27 240.84 529.89 241.87 528.51 242.9 527.15 243.93 525.78 244.96 524.43 245.99 523.08 247.02 521.73 248.05 520.39 249.08 519.06 250.11 517.72 251.14 516.4 252.17 515.07 253.2 513.75 254.23 512.43 255.26 511.12 256.29 509.8 257.32 508.49 258.35 507.18 259.38 505.87 260.41 504.57 261.44 503.26 262.47 501.96 263.5 500.65 264.53 499.34 265.56 498.04 266.59 496.73 267.62 495.43 268.65 494.12 269.68 492.81 270.71 491.5 271.74 490.18 272.77 488.87 273.8 487.55 274.83 486.23 275.86 484.9 276.89 483.58 277.92 482.24 278.95 480.91 279.98 479.57 281.01 478.22 282.04 476.87 283.07 475.52 284.1 474.15 285.13 472.79 286.16 471.41 287.19 470.03 288.22 468.65 289.25 467.25 290.28 465.85 291.31 464.44 292.34 463.02 293.37 461.59 294.4 460.15 295.43 458.7 296.46 457.24 297.49 455.77 298.52 454.29 299.55 452.8 300.58 451.3 301.61 449.78 302.64 448.25 303.67 446.71 304.7 445.15 305.73 443.58 306.76 441.99 307.79 440.39 308.82 438.77 309.85 437.14 310.88 435.48 311.91 433.81 312.94 432.12 313.97 430.41 315 428.68 316.03 426.93 317.06 425.16 318.09 423.36 319.12 421.54 320.15 419.7 321.18 417.83 322.21 415.94 323.24 414.02 324.27 412.07 325.3 410.09 326.33 408.08 327.36 406.04 328.39 403.96 329.42 401.85 330.45 399.71 331.48 397.53 332.51 395.31 333.54 393.06 334.57 390.76 335.6 388.41 336.63 386.03 337.66 383.6 338.69 381.11 339.72 378.58 340.75 376 341.78 378.58 342.81 381.11 343.84 383.6 344.87 386.03 345.9 388.41 346.93 390.76 347.96 393.06 348.99 395.31 350.02 397.53 351.05 399.71 352.08 401.85 353.11 403.96 354.14 406.04 355.17 408.08 356.2 410.09 357.23 412.07 358.26 414.02 359.29 415.94 360.32 417.83 361.35 419.7 362.38 421.54 363.41 423.36 364.44 425.16 365.47 426.93 366.5 428.68 367.53 430.41 368.56 432.12 369.59 433.81 370.62 435.48 371.65 437.14 372.68 438.77 373.71 440.39 374.74 441.99 375.77 443.58 376.8 445.15 377.83 446.71 378.86 448.25 379.89 449.78 380.92 451.3 381.95 452.8 382.98 454.29 384.01 455.77 385.04 457.24 386.07 458.7 387.1 460.15 388.13 461.59 389.16 463.02 390.19 464.44 391.22 465.85 392.25 467.25 393.28 468.65 394.31 470.03 395.34 471.41 396.37 472.79 397.4 474.15 398.43 475.52 399.46 476.87 400.49 478.22 401.52 479.57 402.55 480.91 403.58 482.24 404.61 483.58 405.64 484.9 406.67 486.23 407.7 487.55 408.73 488.87 409.76 490.18 410.79 491.5 411.82 492.81 412.85 494.12 413.88 495.43 414.91 496.73 415.94 498.04 416.97 499.34 418 500.65" stroke="#f0f" stroke-width="6" stroke-linecap="round" stroke-dasharray="0 10"/>
<path d="M109 500.65L110.03 499.34 111.06 498.04 112.09 496.73 113.12 495.43 114.15 494.12 115.18 492.81 116.21 491.5 117.24 490.18 118.27 488.87 119.3 487.55 120.33 486.23 121.36 484.9 122.39 483.58 123.42 482.24 124.45 480.91 125.48 479.57 126.51 478.22 127.54 476.87 128.57 475.52 129.6 474.15 130.63 472.79 131.66 471.41 132.69 470.03 133.72 468.65 134.75 467.25 135.78 465.85 136.81 464.44 137.84 463.02 138.87 461.59 139.9 460.15 140.93 458.7 141.96 457.24 142.99 455.77 144.02 454.29 145.05 452.8 146.08 451.3 147.11 449.78 148.14 448.25 149.17 446.71 150.2 445.15 151.23 443.58 152.26 441.99 153.29 440.39 154.32 438.77 155.35 437.14 156.38 435.48 157.41 433.81 158.44 432.12 159.47 430.41 160.5 428.68 161.53 426.93 162.56 425.16 163.59 423.36 164.62 421.54 165.65 419.7 166.68 417.83 167.71 415.94 168.74 414.02 169.77 412.07 170.8 410.09 171.83 408.08 172.86 406.04 173.89 403.96 174.92 401.85 175.95 399.71 176.98 397.53 178.01 395.31 179.04 393.06 180.07 390.76 181.1 388.41 182.13 386.03 183.16 383.6 184.19 381.11 185.22 378.58 186.25 376 187.28 378.58 188.31 381.11 189.34 383.6 190.37 386.03 191.4 388.41 192.43 390.76 193.46 393.06 194.49 395.31 195.52 397.53 196.55 399.71 197.58 401.85 198.61 403.96 199.64 406.04 200.67 408.08 201.7 410.09 202.73 412.07 203.76 414.02 204.79 415.94 205.82 417.83 206.85 419.7 207.88 421.54 208.91 423.36 209.94 425.16 210.97 426.93 212 428.68 213.03 430.41 214.06 432.12 215.09 433.81 216.12 435.48 217.15 437.14 218.18 438.77 219.21 440.39 220.24 441.99 221.27 443.58 222.3 445.15 223.33 446.71 224.36 448.25 225.39 449.78 226.42 451.3 227.45 452.8 228.48 454.29 229.51 455.77 230.54 457.24 231.57 458.7 232.6 460.15 233.63 461.59 234.66 463.02 235.69 464.44 236.72 465.85 237.75 467.25 238.78 468.65 239.81 470.03 240.84 471.41 241.87 472.79 242.9 474.15 243.93 475.52 244.96 476.87 245.99 478.22 247.02 479.57 248.05 480.91 249.08 482.24 250.11 483.58 251.14 484.9 252.17 486.23 253.2 487.55 254.23 488.87 255.26 490.18 256.29 491.5 257.32 492.81 258.35 494.12 259.38 495.43 260.41 496.73 261.44 498.04 262.47 499.34 263.5 500.65 264.53 501.96 265.56 503.26 266.59 504.57 267.62 505.87 268.65 507.18 269.68 508.49 270.71 509.8 271.74 511.12 272.77 512.43 273.8 513.75 274.83 515.07 275.86 516.4 276.89 517.72 277.92 519.06 278.95 520.39 279.98 521.73 281.01 523.08 282.04 524.43 283.07 525.78 284.1 527.15 285.13 528.51 286.16 529.89 287.19 531.27 288.22 532.65 289.25 534.05 290.28 535.45 291.31 536.86 292.34 538.28 293.37 539.71 294.4 541.15 295.43 542.6 296.46 544.06 297.49 545.53 298.52 547.01 299.55 548.5 300.58 550 301.61 551.52 302.64 553.05 303.67 554.59 304.7 556.15 305.73 557.72 306.76 559.31 307.79 560.91 308.82 562.53 309.85 564.16 310.88 565.82 311.91 567.49 312.94 569.18 313.97 570.89 315 572.62 316.03 574.37 317.06 576.14 318.09 577.94 319.12 579.76 320.15 581.6 321.18 583.47 322.21 585.36 323.24 587.28 324.27 589.23 325.3 591.21 326.33 593.22 327.36 595.26 328.39 597.34 329.42 599.45 330.45 601.59 331.48 603.77 332.51 605.99 333.54 608.24 334.57 610.54 335.6 612.89 336.63 615.27 337.66 617.7 338.69 620.19 339.72 622.72 340.75 625.3 341.78 622.72 342.81 620.19 343.84 617.7 344.87 615.27 345.9 612.89 346.93 610.54 347.96 608.24 348.99 605.99 350.02 603.77 351.05 601.59 352.08 599.45 353.11 597.34 354.14 595.26 355.17 593.22 356.2 591.21 357.23 589.23 358.26 587.28 359.29 585.36 360.32 583.47 361.35 581.6 362.38 579.76 363.41 577.94 364.44 576.14 365.47 574.37 366.5 572.62 367.53 570.89 368.56 569.18 369.59 567.49 370.62 565.82 371.65 564.16 372.68 562.53 373.71 560.91 374.74 559.31 375.77 557.72 376.8 556.15 377.83 554.59 378.86 553.05 379.89 551.52 380.92 550 381.95 548.5 382.98 547.01 384.01 545.53 385.04 544.06 386.07 542.6 387.1 541.15 388.13 539.71 389.16 538.28 390.19 536.86 391.22 535.45 392.25 534.05 393.28 532.65 394.31 531.27 395.34 529.89 396.37 528.51 397.4 527.15 398.43 525.78 399.46 524.43 400.49 523.08 401.52 521.73 402.55 520.39 403.58 519.06 404.61 517.72 405.64 516.4 406.67 515.07 407.7 513.75 408.73 512.43 409.76 511.12 410.79 509.8 411.82 508.49 412.85 507.18 413.88 505.87 414.91 504.57 415.94 503.26 416.97 501.96 418 500.65" stroke="#0ff" stroke-width="6" stroke-linecap="round" stroke-dasharray="0 10"/>
</g>
<g transform="translate(80.29 658.4) scale(1 1.02)">
<text font-size="29.5" xml:space="preserve">  .0</text>
<rect x="0" y="-9.95" width="16.11" height="2"/>
<use href="#one" transform="translate(16.41 0) scale(0.03)"/>
</g>
<g transform="translate(157.54 658.4) scale(1 1.02)">
<text font-size="29.5" xml:space="preserve"> 0.5</text>
<rect x="0" y="-9.95" width="16.11" height="2"/>
</g>
<g transform="translate(243 658.4) scale(1 1.02)">
<text font-size="29.5" xml:space="preserve">0.0</text>
</g>
<g transform="translate(320.25 658.4) scale(1 1.02)">
<text font-size="29.5" xml:space="preserve">0.5</text>
</g>
<g transform="translate(397.5 658.4) scale(1 1.02)">
<text font-size="29.5" xml:space="preserve"> .0</text>
<use href="#one" transform="translate(0 0) scale(0.03)"/>
</g>
<g transform="translate(58.59 385.7) scale(1 1.02)">
<text font-size="29.5" xml:space="preserve"> .0</text>
<use href="#one" transform="translate(0 0) scale(0.03)"/>
</g>
<g transform="translate(58.59 510.35) scale(1 1.02)">
<text font-size="29.5" xml:space="preserve">0.5</text>
</g>
<g transform="translate(58.59 635) scale(1 1.02)">
<text font-size="29.5" xml:space="preserve">0.0</text>
</g>
<path d="M625.94 376v3M625.94 625.3v-3M664.62 376v5M664.62 625.3v-5M703.31 376v3M703.31 625.3v-3M742 376v5M742 625.3v-5M780.69 376v3M780.69 625.3v-3M819.38 376v5M819.38 625.3v-5M858.06 376v3M858.06 625.3v-3M587.25 625.3h5M896.75 625.3h-5M587.25 500.65h5M896.75 500.65h-5M587.25 376h5M896.75 376h-5M587.25 562.97h3M896.75 562.97h-3M587.25 438.32h3M896.75 438.32h-3" stroke="#000" stroke-width="2" fill="none"/>
<rect x="587.25" y="376" width="309.5" height="249.3" stroke="#000" stroke-width="2" fill="none"/>
<g clip-path="url(#cid)" fill="none" stroke-linejoin="round">
<path d="M587.25 505.39L588.28 506.62 589.31 507.85 590.35 509.08 591.38 510.32 592.41 511.55 593.44 512.79 594.47 514.03 595.5 515.27 596.53 516.51 597.57 517.75 598.6 519 599.63 520.25 600.66 521.51 601.69 522.76 602.73 524.02 603.76 525.29 604.79 526.56 605.82 527.83 606.85 529.11 607.88 530.4 608.91 531.69 609.95 532.99 610.98 534.29 612.01 535.6 613.04 536.92 614.07 538.24 615.11 539.57 616.14 540.91 617.17 542.26 618.2 543.62 619.23 544.99 620.26 546.36 621.29 547.75 622.33 549.15 623.36 550.56 624.39 551.98 625.42 553.41 626.45 554.85 627.49 556.31 628.52 557.78 629.55 559.26 630.58 560.76 631.61 562.27 632.64 563.8 633.67 565.34 634.71 566.9 635.74 568.48 636.77 570.08 637.8 571.69 638.83 573.32 639.87 574.98 640.9 576.65 641.93 578.34 642.96 580.06 643.99 581.8 645.02 583.57 646.05 585.35 647.09 587.17 648.12 589.01 649.15 590.88 650.18 592.78 651.21 594.7 652.25 596.66 653.28 598.65 654.31 600.67 655.34 602.73 656.37 604.83 657.4 606.96 658.43 609.13 659.47 611.34 660.5 613.59 661.53 615.89 662.56 618.23 663.59 620.62 664.62 623.06 665.66 620.62 666.69 618.23 667.72 615.89 668.75 613.59 669.78 611.34 670.82 609.13 671.85 606.96 672.88 604.83 673.91 602.73 674.94 600.67 675.97 598.65 677 596.66 678.04 594.7 679.07 592.78 680.1 590.88 681.13 589.01 682.16 587.17 683.19 585.35 684.23 583.57 685.26 581.8 686.29 580.06 687.32 578.34 688.35 576.65 689.38 574.98 690.42 573.32 691.45 571.69 692.48 570.08 693.51 568.48 694.54 566.9 695.58 565.34 696.61 563.8 697.64 562.27 698.67 560.76 699.7 559.26 700.73 557.78 701.76 556.31 702.8 554.85 703.83 553.41 704.86 551.98 705.89 550.56 706.92 549.15 707.96 547.75 708.99 546.36 710.02 544.99 711.05 543.62 712.08 542.26 713.11 540.91 714.14 539.57 715.18 538.24 716.21 536.92 717.24 535.6 718.27 534.29 719.3 532.99 720.34 531.69 721.37 530.4 722.4 529.11 723.43 527.83 724.46 526.56 725.49 525.29 726.52 524.02 727.56 522.76 728.59 521.51 729.62 520.25 730.65 519 731.68 517.75 732.72 516.51 733.75 515.27 734.78 514.03 735.81 512.79 736.84 511.55 737.87 510.32 738.9 509.08 739.94 507.85 740.97 506.62 742 505.39 743.03 504.15 744.06 502.92 745.1 501.69 746.13 500.45 747.16 499.22 748.19 497.98 749.22 496.75 750.25 495.51 751.28 494.26 752.32 493.02 753.35 491.77 754.38 490.52 755.41 489.27 756.44 488.01 757.48 486.75 758.51 485.48 759.54 484.21 760.57 482.94 761.6 481.66 762.63 480.38 763.66 479.08 764.7 477.79 765.73 476.48 766.76 475.17 767.79 473.86 768.82 472.53 769.86 471.2 770.89 469.86 771.92 468.51 772.95 467.15 773.98 465.79 775.01 464.41 776.04 463.02 777.08 461.63 778.11 460.22 779.14 458.8 780.17 457.37 781.2 455.92 782.24 454.47 783.27 453 784.3 451.51 785.33 450.02 786.36 448.5 787.39 446.98 788.42 445.43 789.46 443.87 790.49 442.29 791.52 440.7 792.55 439.08 793.58 437.45 794.62 435.8 795.65 434.12 796.68 432.43 797.71 430.71 798.74 428.97 799.77 427.21 800.8 425.42 801.84 423.6 802.87 421.76 803.9 419.89 804.93 418 805.96 416.07 807 414.11 808.03 412.12 809.06 410.1 810.09 408.04 811.12 405.95 812.15 403.82 813.18 401.65 814.22 399.44 815.25 397.18 816.28 394.89 817.31 392.55 818.34 390.16 819.38 387.72 820.41 390.16 821.44 392.55 822.47 394.89 823.5 397.18 824.53 399.44 825.57 401.65 826.6 403.82 827.63 405.95 828.66 408.04 829.69 410.1 830.72 412.12 831.75 414.11 832.79 416.07 833.82 418 834.85 419.89 835.88 421.76 836.91 423.6 837.95 425.42 838.98 427.21 840.01 428.97 841.04 430.71 842.07 432.43 843.1 434.12 844.13 435.8 845.17 437.45 846.2 439.08 847.23 440.7 848.26 442.29 849.29 443.87 850.33 445.43 851.36 446.98 852.39 448.5 853.42 450.02 854.45 451.51 855.48 453 856.51 454.47 857.55 455.92 858.58 457.37 859.61 458.8 860.64 460.22 861.67 461.63 862.7 463.02 863.74 464.41 864.77 465.79 865.8 467.15 866.83 468.51 867.86 469.86 868.89 471.2 869.93 472.53 870.96 473.86 871.99 475.17 873.02 476.48 874.05 477.79 875.09 479.08 876.12 480.38 877.15 481.66 878.18 482.94 879.21 484.21 880.24 485.48 881.27 486.75 882.31 488.01 883.34 489.27 884.37 490.52 885.4 491.77 886.43 493.02 887.46 494.26 888.5 495.51 889.53 496.75 890.56 497.98 891.59 499.22 892.62 500.45 893.65 501.69 894.69 502.92 895.72 504.15 896.75 505.39" stroke="#f00" stroke-width="3.7"/>
<path d="M587.25 505.39L588.28 504.15 589.31 502.92 590.35 501.69 591.38 500.45 592.41 499.22 593.44 497.98 594.47 496.75 595.5 495.51 596.53 494.26 597.57 493.02 598.6 491.77 599.63 490.52 600.66 489.27 601.69 488.01 602.73 486.75 603.76 485.48 604.79 484.21 605.82 482.94 606.85 481.66 607.88 480.38 608.91 479.08 609.95 477.79 610.98 476.48 612.01 475.17 613.04 473.86 614.07 472.53 615.11 471.2 616.14 469.86 617.17 468.51 618.2 467.15 619.23 465.79 620.26 464.41 621.29 463.02 622.33 461.63 623.36 460.22 624.39 458.8 625.42 457.37 626.45 455.92 627.49 454.47 628.52 453 629.55 451.51 630.58 450.02 631.61 448.5 632.64 446.98 633.67 445.43 634.71 443.87 635.74 442.29 636.77 440.7 637.8 439.08 638.83 437.45 639.87 435.8 640.9 434.12 641.93 432.43 642.96 430.71 643.99 428.97 645.02 427.21 646.05 425.42 647.09 423.6 648.12 421.76 649.15 419.89 650.18 418 651.21 416.07 652.25 414.11 653.28 412.12 654.31 410.1 655.34 408.04 656.37 405.95 657.4 403.82 658.43 401.65 659.47 399.44 660.5 397.18 661.53 394.89 662.56 392.55 663.59 390.16 664.62 387.72 665.66 390.16 666.69 392.55 667.72 394.89 668.75 397.18 669.78 399.44 670.82 401.65 671.85 403.82 672.88 405.95 673.91 408.04 674.94 410.1 675.97 412.12 677 414.11 678.04 416.07 679.07 418 680.1 419.89 681.13 421.76 682.16 423.6 683.19 425.42 684.23 427.21 685.26 428.97 686.29 430.71 687.32 432.43 688.35 434.12 689.38 435.8 690.42 437.45 691.45 439.08 692.48 440.7 693.51 442.29 694.54 443.87 695.58 445.43 696.61 446.98 697.64 448.5 698.67 450.02 699.7 451.51 700.73 453 701.76 454.47 702.8 455.92 703.83 457.37 704.86 458.8 705.89 460.22 706.92 461.63 707.96 463.02 708.99 464.41 710.02 465.79 711.05 467.15 712.08 468.51 713.11 469.86 714.14 471.2 715.18 472.53 716.21 473.86 717.24 475.17 718.27 476.48 719.3 477.79 720.34 479.08 721.37 480.38 722.4 481.66 723.43 482.94 724.46 484.21 725.49 485.48 726.52 486.75 727.56 488.01 728.59 489.27 729.62 490.52 730.65 491.77 731.68 493.02 732.72 494.26 733.75 495.51 734.78 496.75 735.81 497.98 736.84 499.22 737.87 500.45 738.9 501.69 739.94 502.92 740.97 504.15 742 505.39 743.03 506.62 744.06 507.85 745.1 509.08 746.13 510.32 747.16 511.55 748.19 512.79 749.22 514.03 750.25 515.27 751.28 516.51 752.32 517.75 753.35 519 754.38 520.25 755.41 521.51 756.44 522.76 757.48 524.02 758.51 525.29 759.54 526.56 760.57 527.83 761.6 529.11 762.63 530.4 763.66 531.69 764.7 532.99 765.73 534.29 766.76 535.6 767.79 536.92 768.82 538.24 769.86 539.57 770.89 540.91 771.92 542.26 772.95 543.62 773.98 544.99 775.01 546.36 776.04 547.75 777.08 549.15 778.11 550.56 779.14 551.98 780.17 553.41 781.2 554.85 782.24 556.31 783.27 557.78 784.3 559.26 785.33 560.76 786.36 562.27 787.39 563.8 788.42 565.34 789.46 566.9 790.49 568.48 791.52 570.08 792.55 571.69 793.58 573.32 794.62 574.98 795.65 576.65 796.68 578.34 797.71 580.06 798.74 581.8 799.77 583.57 800.8 585.35 801.84 587.17 802.87 589.01 803.9 590.88 804.93 592.78 805.96 594.7 807 596.66 808.03 598.65 809.06 600.67 810.09 602.73 811.12 604.83 812.15 606.96 813.18 609.13 814.22 611.34 815.25 613.59 816.28 615.89 817.31 618.23 818.34 620.62 819.38 623.06 820.41 620.62 821.44 618.23 822.47 615.89 823.5 613.59 824.53 611.34 825.57 609.13 826.6 606.96 827.63 604.83 828.66 602.73 829.69 600.67 830.72 598.65 831.75 596.66 832.79 594.7 833.82 592.78 834.85 590.88 835.88 589.01 836.91 587.17 837.95 585.35 838.98 583.57 840.01 581.8 841.04 580.06 842.07 578.34 843.1 576.65 844.13 574.98 845.17 573.32 846.2 571.69 847.23 570.08 848.26 568.48 849.29 566.9 850.33 565.34 851.36 563.8 852.39 562.27 853.42 560.76 854.45 559.26 855.48 557.78 856.51 556.31 857.55 554.85 858.58 553.41 859.61 551.98 860.64 550.56 861.67 549.15 862.7 547.75 863.74 546.36 864.77 544.99 865.8 543.62 866.83 542.26 867.86 540.91 868.89 539.57 869.93 538.24 870.96 536.92 871.99 535.6 873.02 534.29 874.05 532.99 875.09 531.69 876.12 530.4 877.15 529.11 878.18 527.83 879.21 526.56 880.24 525.29 881.27 524.02 882.31 522.76 883.34 521.51 884.37 520.25 885.4 519 886.43 517.75 887.46 516.51 888.5 515.27 889.53 514.03 890.56 512.79 891.59 511.55 892.62 510.32 893.65 509.08 894.69 507.85 895.72 506.62 896.75 505.39" stroke="#00f" stroke-width="3.7"/>
<path d="M587.25 500.65L588.28 501.98 589.31 503.31 590.35 504.64 591.38 505.97 592.41 507.3 593.44 508.63 594.47 509.96 595.5 511.29 596.53 512.63 597.57 513.96 598.6 515.3 599.63 516.64 600.66 517.98 601.69 519.32 602.73 520.67 603.76 522.02 604.79 523.37 605.82 524.73 606.85 526.09 607.88 527.46 608.91 528.83 609.95 530.21 610.98 531.59 612.01 532.98 613.04 534.38 614.07 535.78 615.11 537.19 616.14 538.61 617.17 540.03 618.2 541.46 619.23 542.9 620.26 544.35 621.29 545.81 622.33 547.28 623.36 548.76 624.39 550.25 625.42 551.75 626.45 553.26 627.49 554.78 628.52 556.32 629.55 557.87 630.58 559.43 631.61 561.01 632.64 562.6 633.67 564.2 634.71 565.82 635.74 567.46 636.77 569.12 637.8 570.79 638.83 572.48 639.87 574.19 640.9 575.91 641.93 577.66 642.96 579.43 643.99 581.22 645.02 583.03 646.05 584.87 647.09 586.73 648.12 588.61 649.15 590.52 650.18 592.46 651.21 594.43 652.25 596.42 653.28 598.45 654.31 600.5 655.34 602.59 656.37 604.71 657.4 606.87 658.43 609.06 659.47 611.29 660.5 613.56 661.53 615.87 662.56 618.22 663.59 620.62 664.62 623.06 665.66 620.62 666.69 618.22 667.72 615.87 668.75 613.56 669.78 611.29 670.82 609.06 671.85 606.87 672.88 604.71 673.91 602.59 674.94 600.5 675.97 598.45 677 596.42 678.04 594.43 679.07 592.46 680.1 590.52 681.13 588.61 682.16 586.73 683.19 584.87 684.23 583.03 685.26 581.22 686.29 579.43 687.32 577.66 688.35 575.91 689.38 574.19 690.42 572.48 691.45 570.79 692.48 569.12 693.51 567.46 694.54 565.82 695.58 564.2 696.61 562.6 697.64 561.01 698.67 559.43 699.7 557.87 700.73 556.32 701.76 554.78 702.8 553.26 703.83 551.75 704.86 550.25 705.89 548.76 706.92 547.28 707.96 545.81 708.99 544.35 710.02 542.9 711.05 541.46 712.08 540.03 713.11 538.61 714.14 537.19 715.18 535.78 716.21 534.38 717.24 532.98 718.27 531.59 719.3 530.21 720.34 528.83 721.37 527.46 722.4 526.09 723.43 524.73 724.46 523.37 725.49 522.02 726.52 520.67 727.56 519.32 728.59 517.98 729.62 516.64 730.65 515.3 731.68 513.96 732.72 512.63 733.75 511.29 734.78 509.96 735.81 508.63 736.84 507.3 737.87 505.97 738.9 504.64 739.94 503.31 740.97 501.98 742 500.65 743.03 499.26 744.06 497.86 745.1 496.47 746.13 495.07 747.16 493.67 748.19 492.28 749.22 490.88 750.25 489.48 751.28 488.08 752.32 486.68 753.35 485.28 754.38 483.88 755.41 482.47 756.44 481.06 757.48 479.65 758.51 478.24 759.54 476.83 760.57 475.41 761.6 474 762.63 472.57 763.66 471.15 764.7 469.72 765.73 468.29 766.76 466.86 767.79 465.42 768.82 463.98 769.86 462.54 770.89 461.09 771.92 459.64 772.95 458.18 773.98 456.72 775.01 455.25 776.04 453.78 777.08 452.3 778.11 450.82 779.14 449.33 780.17 447.84 781.2 446.34 782.24 444.83 783.27 443.32 784.3 441.8 785.33 440.27 786.36 438.74 787.39 437.2 788.42 435.65 789.46 434.09 790.49 432.52 791.52 430.95 792.55 429.36 793.58 427.77 794.62 426.16 795.65 424.55 796.68 422.93 797.71 421.29 798.74 419.64 799.77 417.98 800.8 416.31 801.84 414.63 802.87 412.93 803.9 411.22 804.93 409.49 805.96 407.75 807 405.99 808.03 404.22 809.06 402.43 810.09 400.63 811.12 398.8 812.15 396.96 813.18 395.1 814.22 393.22 815.25 391.32 816.28 389.39 817.31 387.45 818.34 385.47 819.38 383.48 820.41 385.47 821.44 387.45 822.47 389.39 823.5 391.32 824.53 393.22 825.57 395.1 826.6 396.96 827.63 398.8 828.66 400.63 829.69 402.43 830.72 404.22 831.75 405.99 832.79 407.75 833.82 409.49 834.85 411.22 835.88 412.93 836.91 414.63 837.95 416.31 838.98 417.98 840.01 419.64 841.04 421.29 842.07 422.93 843.1 424.55 844.13 426.16 845.17 427.77 846.2 429.36 847.23 430.95 848.26 432.52 849.29 434.09 850.33 435.65 851.36 437.2 852.39 438.74 853.42 440.27 854.45 441.8 855.48 443.32 856.51 444.83 857.55 446.34 858.58 447.84 859.61 449.33 860.64 450.82 861.67 452.3 862.7 453.78 863.74 455.25 864.77 456.72 865.8 458.18 866.83 459.64 867.86 461.09 868.89 462.54 869.93 463.98 870.96 465.42 871.99 466.86 873.02 468.29 874.05 469.72 875.09 471.15 876.12 472.57 877.15 474 878.18 475.41 879.21 476.83 880.24 478.24 881.27 479.65 882.31 481.06 883.34 482.47 884.37 483.88 885.4 485.28 886.43 486.68 887.46 488.08 888.5 489.48 889.53 490.88 890.56 492.28 891.59 493.67 892.62 495.07 893.65 496.47 894.69 497.86 895.72 499.26 896.75 500.65" stroke="#f0f" stroke-width="6" stroke-linecap="round" stroke-dasharray="0 10"/>
<path d="M587.25 500.65L588.28 499.26 589.31 497.86 590.35 496.47 591.38 495.07 592.41 493.67 593.44 492.28 594.47 490.88 595.5 489.48 596.53 488.08 597.57 486.68 598.6 485.28 599.63 483.88 600.66 482.47 601.69 481.06 602.73 479.65 603.76 478.24 604.79 476.83 605.82 475.41 606.85 474 607.88 472.57 608.91 471.15 609.95 469.72 610.98 468.29 612.01 466.86 613.04 465.42 614.07 463.98 615.11 462.54 616.14 461.09 617.17 459.64 618.2 458.18 619.23 456.72 620.26 455.25 621.29 453.78 622.33 452.3 623.36 450.82 624.39 449.33 625.42 447.84 626.45 446.34 627.49 444.83 628.52 443.32 629.55 441.8 630.58 440.27 631.61 438.74 632.64 437.2 633.67 435.65 634.71 434.09 635.74 432.52 636.77 430.95 637.8 429.36 638.83 427.77 639.87 426.16 640.9 424.55 641.93 422.93 642.96 421.29 643.99 419.64 645.02 417.98 646.05 416.31 647.09 414.63 648.12 412.93 649.15 411.22 650.18 409.49 651.21 407.75 652.25 405.99 653.28 404.22 654.31 402.43 655.34 400.63 656.37 398.8 657.4 396.96 658.43 395.1 659.47 393.22 660.5 391.32 661.53 389.39 662.56 387.45 663.59 385.47 664.62 383.48 665.66 385.47 666.69 387.45 667.72 389.39 668.75 391.32 669.78 393.22 670.82 395.1 671.85 396.96 672.88 398.8 673.91 400.63 674.94 402.43 675.97 404.22 677 405.99 678.04 407.75 679.07 409.49 680.1 411.22 681.13 412.93 682.16 414.63 683.19 416.31 684.23 417.98 685.26 419.64 686.29 421.29 687.32 422.93 688.35 424.55 689.38 426.16 690.42 427.77 691.45 429.36 692.48 430.95 693.51 432.52 694.54 434.09 695.58 435.65 696.61 437.2 697.64 438.74 698.67 440.27 699.7 441.8 700.73 443.32 701.76 444.83 702.8 446.34 703.83 447.84 704.86 449.33 705.89 450.82 706.92 452.3 707.96 453.78 708.99 455.25 710.02 456.72 711.05 458.18 712.08 459.64 713.11 461.09 714.14 462.54 715.18 463.98 716.21 465.42 717.24 466.86 718.27 468.29 719.3 469.72 720.34 471.15 721.37 472.57 722.4 474 723.43 475.41 724.46 476.83 725.49 478.24 726.52 479.65 727.56 481.06 728.59 482.47 729.62 483.88 730.65 485.28 731.68 486.68 732.72 488.08 733.75 489.48 734.78 490.88 735.81 492.28 736.84 493.67 737.87 495.07 738.9 496.47 739.94 497.86 740.97 499.26 742 500.65 743.03 501.98 744.06 503.31 745.1 504.64 746.13 505.97 747.16 507.3 748.19 508.63 749.22 509.96 750.25 511.29 751.28 512.63 752.32 513.96 753.35 515.3 754.38 516.64 755.41 517.98 756.44 519.32 757.48 520.67 758.51 522.02 759.54 523.37 760.57 524.73 761.6 526.09 762.63 527.46 763.66 528.83 764.7 530.21 765.73 531.59 766.76 532.98 767.79 534.38 768.82 535.78 769.86 537.19 770.89 538.61 771.92 540.03 772.95 541.46 773.98 542.9 775.01 544.35 776.04 545.81 777.08 547.28 778.11 548.76 779.14 550.25 780.17 551.75 781.2 553.26 782.24 554.78 783.27 556.32 784.3 557.87 785.33 559.43 786.36 561.01 787.39 562.6 788.42 564.2 789.46 565.82 790.49 567.46 791.52 569.12 792.55 570.79 793.58 572.48 794.62 574.19 795.65 575.91 796.68 577.66 797.71 579.43 798.74 581.22 799.77 583.03 800.8 584.87 801.84 586.73 802.87 588.61 803.9 590.52 804.93 592.46 805.96 594.43 807 596.42 808.03 598.45 809.06 600.5 810.09 602.59 811.12 604.71 812.15 606.87 813.18 609.06 814.22 611.29 815.25 613.56 816.28 615.87 817.31 618.22 818.34 620.62 819.38 623.06 820.41 620.62 821.44 618.22 822.47 615.87 823.5 613.56 824.53 611.29 825.57 609.06 826.6 606.87 827.63 604.71 828.66 602.59 829.69 600.5 830.72 598.45 831.75 596.42 832.79 594.43 833.82 592.46 834.85 590.52 835.88 588.61 836.91 586.73 837.95 584.87 838.98 583.03 840.01 581.22 841.04 579.43 842.07 577.66 843.1 575.91 844.13 574.19 845.17 572.48 846.2 570.79 847.23 569.12 848.26 567.46 849.29 565.82 850.33 564.2 851.36 562.6 852.39 561.01 853.42 559.43 854.45 557.87 855.48 556.32 856.51 554.78 857.55 553.26 858.58 551.75 859.61 550.25 860.64 548.76 861.67 547.28 862.7 545.81 863.74 544.35 864.77 542.9 865.8 541.46 866.83 540.03 867.86 538.61 868.89 537.19 869.93 535.78 870.96 534.38 871.99 532.98 873.02 531.59 874.05 530.21 875.09 528.83 876.12 527.46 877.15 526.09 878.18 524.73 879.21 523.37 880.24 522.02 881.27 520.67 882.31 519.32 883.34 517.98 884.37 516.64 885.4 515.3 886.43 513.96 887.46 512.63 888.5 511.29 889.53 509.96 890.56 508.63 891.59 507.3 892.62 505.97 893.65 504.64 894.69 503.31 895.72 501.98 896.75 500.65" stroke="#0ff" stroke-width="6" stroke-linecap="round" stroke-dasharray="0 10"/>
</g>
<g transform="translate(558.54 658.4) scale(1 1.02)">
<text font-size="29.5" xml:space="preserve">  .0</text>
<rect x="0" y="-9.95" width="16.11" height="2"/>
<use href="#one" transform="translate(16.41 0) scale(0.03)"/>
</g>
<g transform="translate(635.92 658.4) scale(1 1.02)">
<text font-size="29.5" xml:space="preserve"> 0.5</text>
<rect x="0" y="-9.95" width="16.11" height="2"/>
</g>
<g transform="translate(721.5 658.4) scale(1 1.02)">
<text font-size="29.5" xml:space="preserve">0.0</text>
</g>
<g transform="translate(798.87 658.4) scale(1 1.02)">
<text font-size="29.5" xml:space="preserve">0.5</text>
</g>
<g transform="translate(876.25 658.4) scale(1 1.02)">
<text font-size="29.5" xml:space="preserve"> .0</text>
<use href="#one" transform="translate(0 0) scale(0.03)"/>
</g>
<g transform="translate(536.84 385.7) scale(1 1.02)">
<text font-size="29.5" xml:space="preserve"> .0</text>
<use href="#one" transform="translate(0 0) scale(0.03)"/>
</g>
<g transform="translate(536.84 510.35) scale(1 1.02)">
<text font-size="29.5" xml:space="preserve">0.5</text>
</g>
<g transform="translate(536.84 635) scale(1 1.02)">
<text font-size="29.5" xml:space="preserve">0.0</text>
</g>
<text transform="translate(-0.29 30.8) scale(0.91 1)" font-size="42.46" font-family="Liberation Sans" font-weight="bold">a</text>
<text transform="translate(466.99 30.6) scale(1.04 1)" font-size="41.06" font-family="Liberation Sans" font-weight="bold">b</text>
<text transform="translate(-0.79 378.3) scale(0.97 1)" font-size="43.08" font-family="Liberation Sans" font-weight="bold">c</text>
<text transform="translate(466.71 377.9) scale(1.06 1)" font-size="41.26" font-family="Liberation Sans" font-weight="bold">d</text>
<text transform="translate(21.6 152.1) rotate(-90) scale(0.98 1)" x="-38.81" font-size="29.5">Re(E)</text>
<text transform="translate(490.8 146.45) rotate(-90) scale(1 1)" x="-36.49" font-size="29.5">Im(E)</text>
<g transform="translate(170.9 554.3)">
<rect x="0" y="-27.6" width="2.4" height="29.8" fill="#f00"/>
<text x="2.28" y="0" font-size="29" fill="#f00">α</text>
<text x="20.79" y="7.8" font-size="20" fill="#f00">j</text>
<rect x="34" y="-27.6" width="2.4" height="29.8" fill="#f00"/>
<text x="36.17" y="-12.9" font-size="20.5" fill="#f00">2</text>
</g>
<g transform="translate(324.4 554.3)">
<rect x="0" y="-27.6" width="2.4" height="29.8" fill="#00f"/>
<text x="2.39" y="0" font-size="29" fill="#00f">β</text>
<text x="18.79" y="7.8" font-size="20" fill="#00f">j</text>
<rect x="31.7" y="-27.6" width="2.4" height="29.8" fill="#00f"/>
<text x="33.97" y="-12.9" font-size="20.5" fill="#00f">2</text>
</g>
<g transform="translate(648 554.3)">
<rect x="0" y="-27.6" width="2.4" height="29.8" fill="#f00"/>
<text x="2.28" y="0" font-size="29" fill="#f00">α</text>
<text x="20.79" y="7.8" font-size="20" fill="#f00">j</text>
<rect x="34" y="-27.6" width="2.4" height="29.8" fill="#f00"/>
<text x="36.17" y="-12.9" font-size="20.5" fill="#f00">2</text>
</g>
<g transform="translate(801.8 554.3)">
<rect x="0" y="-27.6" width="2.4" height="29.8" fill="#00f"/>
<text x="2.39" y="0" font-size="29" fill="#00f">β</text>
<text x="18.79" y="7.8" font-size="20" fill="#00f">j</text>
<rect x="31.7" y="-27.6" width="2.4" height="29.8" fill="#00f"/>
<text x="33.97" y="-12.9" font-size="20.5" fill="#00f">2</text>
</g>
<g transform="translate(31.6 551.9) rotate(-90)">
<rect x="0" y="-27.6" width="2.4" height="29.8"/>
<text x="2.28" y="0" font-size="29">α</text>
<text x="20.79" y="7.8" font-size="20">j</text>
<rect x="34" y="-27.6" width="2.4" height="29.8"/>
<text x="36.17" y="-12.9" font-size="20.5">2</text>
<rect x="62.3" y="-27.6" width="2.4" height="29.8"/>
<text x="64.69" y="0" font-size="29">β</text>
<text x="81.09" y="7.8" font-size="20">j</text>
<rect x="94" y="-27.6" width="2.4" height="29.8"/>
<text x="96.27" y="-12.9" font-size="20.5">2</text>
<text x="48.29" y="0" font-size="29">,</text>
</g>
<g transform="translate(509.1 551.9) rotate(-90)">
<rect x="0" y="-27.6" width="2.4" height="29.8"/>
<text x="2.28" y="0" font-size="29">α</text>
<text x="20.79" y="7.8" font-size="20">j</text>
<rect x="34" y="-27.6" width="2.4" height="29.8"/>
<text x="36.17" y="-12.9" font-size="20.5">2</text>
<rect x="62.3" y="-27.6" width="2.4" height="29.8"/>
<text x="64.69" y="0" font-size="29">β</text>
<text x="81.09" y="7.8" font-size="20">j</text>
<rect x="94" y="-27.6" width="2.4" height="29.8"/>
<text x="96.27" y="-12.9" font-size="20.5">2</text>
<text x="48.29" y="0" font-size="29">,</text>
</g>
<text x="234.58" y="698.5" font-size="29.5" font-family="Liberation Serif">Δ</text>
<text x="252.94" y="698.5" font-size="28.5" font-family="Liberation Serif">ϕ</text>
<text x="267.6" y="698.5" font-size="30">/</text>
<text x="276.58" y="699" font-size="31" font-family="Liberation Serif">π</text>
<text x="712.83" y="698.5" font-size="29.5" font-family="Liberation Serif">Δ</text>
<text x="731.19" y="698.5" font-size="28.5" font-family="Liberation Serif">ϕ</text>
<text x="745.85" y="698.5" font-size="30">/</text>
<text x="754.83" y="699" font-size="31" font-family="Liberation Serif">π</text>
</svg></body></html>
